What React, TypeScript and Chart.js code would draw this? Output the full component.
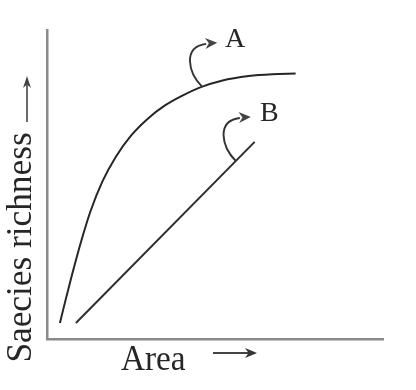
import React, { useEffect, useRef } from "react";
import { Chart, registerables } from "chart.js";

Chart.register(...registerables);

// Curve A (species-area curve, saturating)
const curveAX = [3.85, 5.5, 7.5, 10, 13, 16.5, 20.5, 25, 30, 35, 40, 46, 52, 60, 67, 74];
const curveAY = [5.2, 12.5, 21, 31, 41.5, 51, 59, 65.8, 71.3, 75.5, 78.6, 81.6, 83.6, 85.1, 85.7, 85.9];
// Line B (straight)
const lineBX = [8.6, 61.8];
const lineBY = [5.2, 63.8];

const xAxisLabel = "Area";
const yAxisLabel = "Saecies richness";
const labelA = "A";
const labelB = "B";
// anchor points of the annotation arrows (data coords)
const anchorA = [46.2, 81.6];
const anchorB = [56.2, 57.6];

const SERIF = "'Liberation Serif', 'DejaVu Serif', serif";
const INK = "#262626";

function arrowHead(ctx: CanvasRenderingContext2D, tx: number, ty: number, angle: number, len: number, half: number) {
  ctx.save();
  ctx.translate(tx, ty);
  ctx.rotate(angle);
  ctx.beginPath();
  ctx.moveTo(0, 0);
  ctx.lineTo(-len, -half);
  ctx.lineTo(-len * 0.7, 0);
  ctx.lineTo(-len, half);
  ctx.closePath();
  ctx.fill();
  ctx.restore();
}

const decorPlugin = {
  id: "decor",
  afterDraw(chart: any) {
    const ctx: CanvasRenderingContext2D = chart.ctx;
    const xs = chart.scales.x;
    const ys = chart.scales.y;
    ctx.save();
    ctx.fillStyle = INK;
    ctx.strokeStyle = INK;

    // Y axis label (rotated)
    ctx.save();
    ctx.translate(31, 247.5);
    ctx.rotate(-Math.PI / 2);
    ctx.scale(0.98, 1);
    ctx.font = `36px ${SERIF}`;
    ctx.textAlign = "center";
    ctx.textBaseline = "alphabetic";
    ctx.fillText(yAxisLabel, 0, 0);
    ctx.restore();
    // Y arrow
    ctx.strokeStyle = "#444";
    ctx.fillStyle = "#444";
    ctx.lineWidth = 1.6;
    ctx.beginPath();
    ctx.moveTo(27, 122);
    ctx.lineTo(27, 84);
    ctx.stroke();
    arrowHead(ctx, 27, 76, -Math.PI / 2, 12, 4);

    // X axis label
    ctx.save();
    ctx.fillStyle = INK;
    ctx.translate(121, 370);
    ctx.scale(0.95, 1);
    ctx.font = `35px ${SERIF}`;
    ctx.textAlign = "left";
    ctx.fillText(xAxisLabel, 0, 0);
    ctx.restore();
    // X arrow
    ctx.strokeStyle = "#444";
    ctx.fillStyle = "#333";
    ctx.lineWidth = 2;
    ctx.beginPath();
    ctx.moveTo(213, 353);
    ctx.lineTo(249, 353);
    ctx.stroke();
    arrowHead(ctx, 257, 353, 0, 12, 5);

    // Annotation labels
    ctx.fillStyle = INK;
    ctx.font = `28px ${SERIF}`;
    ctx.textAlign = "left";
    ctx.fillText(labelA, 225, 47);
    ctx.fillText(labelB, 260, 121);

    // Annotation curved arrows
    const drawHook = (ax: number, ay: number) => {
      const sx = xs.getPixelForValue(ax);
      const sy = ys.getPixelForValue(ay);
      ctx.strokeStyle = "#333";
      ctx.fillStyle = "#444";
      ctx.lineWidth = 1.9;
      ctx.beginPath();
      ctx.moveTo(sx, sy);
      ctx.bezierCurveTo(sx - 14, sy - 14, sx - 20, sy - 40, sx + 4, sy - 43);
      ctx.stroke();
      arrowHead(ctx, sx + 15, sy - 44, -0.05, 12, 5.5);
    };
    drawHook(anchorA[0], anchorA[1]);
    drawHook(anchorB[0], anchorB[1]);
    ctx.restore();
  },
};

export default function App() {
  const ref = useRef<HTMLCanvasElement | null>(null);
  useEffect(() => {
    if (!ref.current) return;
    const chart = new Chart(ref.current, {
      type: "scatter",
      data: {
        datasets: [
          {
            label: labelA,
            data: curveAX.map((x, i) => ({ x, y: curveAY[i] })),
            showLine: true,
            borderColor: INK,
            borderWidth: 2,
            pointRadius: 0,
            cubicInterpolationMode: "monotone",
          },
          {
            label: labelB,
            data: lineBX.map((x, i) => ({ x, y: lineBY[i] })),
            showLine: true,
            borderColor: "#2e2e2e",
            borderWidth: 2,
            pointRadius: 0,
          },
        ],
      },
      options: {
        responsive: false,
        animation: false,
        layout: { padding: { left: 47, right: 33, top: 30, bottom: 51 } },
        plugins: { legend: { display: false }, tooltip: { enabled: false } },
        scales: {
          x: {
            type: "linear",
            min: 0,
            max: 100,
            grid: { display: false, drawTicks: false },
            ticks: { display: false },
            border: { display: true, color: "#8a8a8a", width: 2.5 },
          },
          y: {
            type: "linear",
            min: 0,
            max: 100,
            grid: { display: false, drawTicks: false },
            ticks: { display: false },
            border: { display: true, color: "#8a8a8a", width: 2.5 },
          },
        },
      },
      plugins: [decorPlugin],
    } as any);
    return () => chart.destroy();
  }, []);
  return (
    <div style={{ position: "absolute", left: 0, top: 0, width: 416, height: 390, background: "#fff" }}>
      <canvas ref={ref} width={416} height={390} style={{ width: 416, height: 390, display: "block" }} />
    </div>
  );
}
